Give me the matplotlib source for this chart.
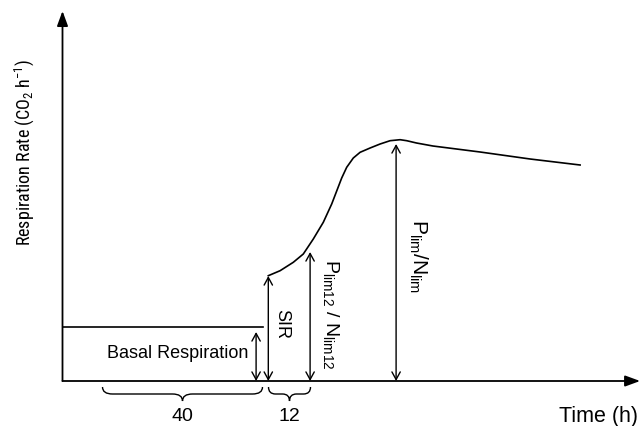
import matplotlib
matplotlib.use("Agg")
import matplotlib.pyplot as plt
from matplotlib.path import Path
from matplotlib.patches import PathPatch

plt.rcParams['font.family'] = ['Liberation Sans', 'DejaVu Sans']
plt.rcParams['mathtext.fontset'] = 'custom'
plt.rcParams['mathtext.rm'] = 'Liberation Sans'
plt.rcParams['mathtext.it'] = 'Liberation Sans:italic'

# ---- data (schematic units: time in h, rate arbitrary) ----
basal_end = 50.0
basal_rate = 5.4
curve_time = [51.45, 54.4, 57.7, 60.2, 62.7, 65.2, 67.3, 68.55, 69.8, 71.05,
              72.7, 74.4, 76.9, 79.4, 81.9, 84.4, 86.05, 88.5, 92.6, 104.4,
              116.9, 129.4]
curve_rate = [10.53, 11.03, 11.87, 12.7, 14.2, 15.87, 17.7, 19.0, 20.3, 21.37,
              22.3, 22.87, 23.3, 23.7, 24.03, 24.13, 24.03, 23.8, 23.5, 22.9,
              22.2, 21.6]
arrow_labels = ['Basal', 'SIR', 'Plim12', 'Plim']
arrow_time = [48.4, 51.45, 61.9, 83.4]
arrow_top = [4.9, 10.5, 12.9, 23.7]
brace_start = [10.0, 51.5]
brace_end = [50.0, 62.0]
brace_labels = ['40', '12']

fig = plt.figure(figsize=(6.42, 4.27), dpi=100)
ax = fig.add_axes([0, 0, 1, 1])
ax.set_xlim(-15.625, 144.875)
ax.set_ylim(-4.5, 38.2)
ax.axis('off')

# axes with arrows
ax.annotate('', xy=(0, 37.0), xytext=(0, 0),
            arrowprops=dict(arrowstyle='-|>,head_length=0.6,head_width=0.22',
                            mutation_scale=15, lw=1.3, color='black',
                            shrinkA=0, shrinkB=0))
ax.annotate('', xy=(144.4, 0), xytext=(0, 0),
            arrowprops=dict(arrowstyle='-|>,head_length=0.6,head_width=0.22',
                            mutation_scale=15, lw=1.3, color='black',
                            shrinkA=0, shrinkB=0))

# basal line and curve
ax.plot([0, basal_end], [basal_rate, basal_rate], color='black', lw=1.2)
ax.plot(curve_time, curve_rate, color='black', lw=1.2, solid_joinstyle='round')

# double arrows
for t, top in zip(arrow_time, arrow_top):
    ax.annotate('', xy=(t, top), xytext=(t, 0),
                arrowprops=dict(arrowstyle='<->,head_length=0.55,head_width=0.3',
                                mutation_scale=10, lw=1.0, color='black',
                                shrinkA=0, shrinkB=0))

# braces
def brace(x0, x1, ytop, ybot, q):
    ymid = (ytop + ybot) / 2
    xm = (x0 + x1) / 2
    verts = [(x0, ytop), (x0, ymid), (x0 + q, ymid),
             (xm - q, ymid),
             (xm, ymid), (xm, ybot),
             (xm, ymid), (xm + q, ymid),
             (x1 - q, ymid),
             (x1, ymid), (x1, ytop)]
    codes = [Path.MOVETO, Path.CURVE3, Path.CURVE3,
             Path.LINETO,
             Path.CURVE3, Path.CURVE3,
             Path.CURVE3, Path.CURVE3,
             Path.LINETO,
             Path.CURVE3, Path.CURVE3]
    ax.add_patch(PathPatch(Path(verts, codes), fill=False, lw=1.0, color='black'))

for s, e, lab in zip(brace_start, brace_end, brace_labels):
    q = min(2.5, (e - s) / 6)
    brace(s, e, -0.6, -2.0, q)
    ax.text((s + e) / 2, -3.5, lab, ha='center', va='center', fontsize=14)

# labels
ax.text(28.9, 2.8, 'Basal Respiration', ha='center', va='center', fontsize=13)
ax.text(54.8, 5.8, 'SIR', ha='center', va='center', fontsize=13, rotation=-90)
ax.text(67.2, 6.8, r'$\mathregular{P_{lim12}\ /\ N_{lim12}}$', ha='center',
        va='center', fontsize=14, rotation=-90)
ax.text(88.9, 12.6, r'$\mathregular{P_{lim}/N_{lim}}$', ha='center',
        va='center', fontsize=15, rotation=-90)
ax.text(-9.6, 22.9, r'Respiration Rate (CO$_\mathregular{2}$ h$^\mathregular{-1}$)',
        ha='center', va='center', fontsize=13, rotation=90,
        family=['Roboto Condensed', 'DejaVu Sans'])
ax.text(133.9, -3.5, 'Time (h)', ha='center', va='center', fontsize=15.5)

fig.savefig('out.png', dpi=100)
